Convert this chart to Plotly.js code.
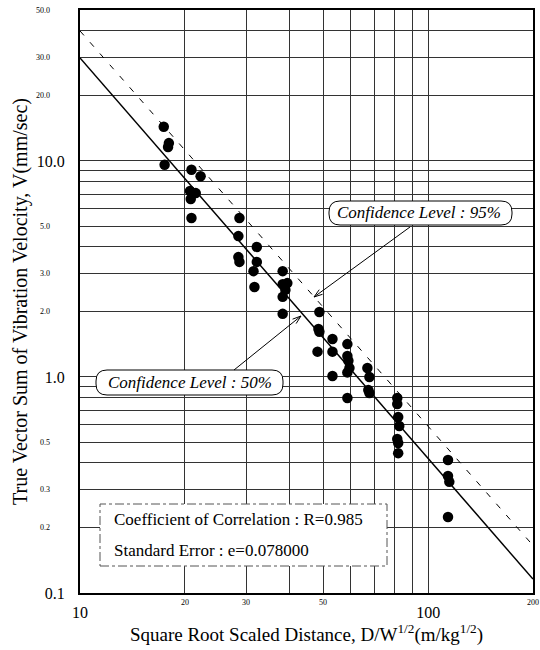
<!DOCTYPE html>
<html>
<head>
<meta charset="utf-8">
<script src="https://cdn.plot.ly/plotly-3.0.1.min.js"></script>
<style>html,body{margin:0;padding:0;background:#fff;}#chart{width:540px;height:650px;}</style>
</head>
<body>
<div id="chart"></div>
<script>
// Measured data points: scaled distance (m/kg^1/2) and vibration velocity (mm/sec)
const distX = [17.4, 18.0, 17.9, 17.5, 20.9, 22.2, 20.7, 21.5, 20.8, 20.9,
  28.7, 28.5, 32.2, 28.5, 28.7, 32.2, 31.5, 31.7, 38.2, 38.2,
  39.4, 38.9, 38.2, 38.2, 48.7, 48.4, 48.7, 53.1, 53.1, 48.1,
  58.6, 58.6, 59.0, 59.4, 58.6, 53.1, 66.9, 67.8, 67.3, 67.8,
  58.6, 81.5, 81.5, 82.0, 82.6, 81.5, 82.0, 82.0, 114, 114,
  115, 114];
const velV = [14.4, 12.1, 11.6, 9.6, 9.1, 8.5, 7.26, 7.1, 6.67, 5.45,
  5.45, 4.49, 4.0, 3.59, 3.41, 3.41, 3.09, 2.61, 3.09, 2.69,
  2.72, 2.53, 2.35, 1.96, 2.0, 1.67, 1.62, 1.5, 1.31, 1.31,
  1.42, 1.25, 1.19, 1.10, 1.05, 1.01, 1.10, 1.00, 0.87, 0.843,
  0.80, 0.80, 0.75, 0.653, 0.593, 0.516, 0.495, 0.444, 0.413, 0.348,
  0.327, 0.225];

// Regression (50%) and 95% confidence lines
const lineX = [10, 200];
const fit50 = [30, 0.116];
const fit95 = [40, 0.166];

// Tick values and labels
const xGridVals = [20, 30, 40, 50, 60, 70, 80, 90];
const xBigVals = [10, 100];
const xBigLabels = ['10', '100'];
const xSmallVals = [20, 30, 50, 200];
const xSmallLabels = ['20', '30', '50', '200'];
const yGridVals = [0.2, 0.3, 0.4, 0.5, 0.6, 0.7, 0.8, 0.9, 2, 3, 4, 5, 6, 7, 8, 9, 20, 30, 40];
const yBigVals = [0.1, 1, 10];
const yBigLabels = ['0.1', '1.0', '10.0'];
const ySmallVals = [0.2, 0.3, 0.5, 2, 3, 5, 20, 30, 50];
const ySmallLabels = ['0.2', '0.3', '0.5', '2.0', '3.0', '5.0', '20.0', '30.0', '50.0'];

const statLines = ['Coefficient of Correlation : R=0.985', 'Standard Error : e=0.078000'];
const confLabels = ['Confidence Level : 95%', 'Confidence Level : 50%'];

const serif = 'Liberation Serif, Times New Roman, serif';

const traces = [
  {
    x: lineX, y: fit95, mode: 'lines', type: 'scatter',
    line: {color: '#000', width: 1, dash: '6px,9px'}, hoverinfo: 'skip'
  },
  {
    x: lineX, y: fit50, mode: 'lines', type: 'scatter',
    line: {color: '#000', width: 1.5}, hoverinfo: 'skip'
  },
  {
    x: distX, y: velV, mode: 'markers', type: 'scatter',
    marker: {color: '#000', size: 10.5, line: {width: 0}}
  }
];

// plot area in pixels: x 80..533, y 10..593
const PL = 80, PR = 533, PT = 10, PB = 593;
const px2paperX = p => (p - PL) / (PR - PL);
const px2paperY = p => (PB - p) / (PB - PT);

function roundRect(x0, y0, x1, y1, r) {
  const X = px2paperX, Y = px2paperY;
  return 'M' + X(x0 + r) + ',' + Y(y0) +
    ' L' + X(x1 - r) + ',' + Y(y0) +
    ' Q' + X(x1) + ',' + Y(y0) + ' ' + X(x1) + ',' + Y(y0 + r) +
    ' L' + X(x1) + ',' + Y(y1 - r) +
    ' Q' + X(x1) + ',' + Y(y1) + ' ' + X(x1 - r) + ',' + Y(y1) +
    ' L' + X(x0 + r) + ',' + Y(y1) +
    ' Q' + X(x0) + ',' + Y(y1) + ' ' + X(x0) + ',' + Y(y1 - r) +
    ' L' + X(x0) + ',' + Y(y0 + r) +
    ' Q' + X(x0) + ',' + Y(y0) + ' ' + X(x0 + r) + ',' + Y(y0) + ' Z';
}

// arrow drawn as a line plus an open head (pixel coords -> paper)
function arrowShapes(tx, ty, hx, hy) {
  const X = px2paperX, Y = px2paperY;
  const ang = Math.atan2(hy - ty, hx - tx);
  const L = 9, w = 0.32;
  const a1x = hx - L * Math.cos(ang - w), a1y = hy - L * Math.sin(ang - w);
  const a2x = hx - L * Math.cos(ang + w), a2y = hy - L * Math.sin(ang + w);
  return [
    {type: 'line', xref: 'paper', yref: 'paper', x0: X(tx), y0: Y(ty), x1: X(hx), y1: Y(hy),
      line: {color: '#000', width: 1}, layer: 'above'},
    {type: 'path', xref: 'paper', yref: 'paper',
      path: 'M' + X(a1x) + ',' + Y(a1y) + ' L' + X(hx) + ',' + Y(hy) + ' L' + X(a2x) + ',' + Y(a2y),
      line: {color: '#000', width: 1}, layer: 'above'}
  ];
}

// small tick labels placed through the axes' own log scales
const smallTickAnns = xSmallVals.map((v, i) => ({
  xref: 'x', yref: 'paper', x: Math.log10(v), y: 0, xanchor: 'center', yanchor: 'top', yshift: -3,
  text: xSmallLabels[i], showarrow: false, font: {family: serif, size: 8, color: '#000'}
})).concat(ySmallVals.map((v, i) => ({
  xref: 'paper', yref: 'y', x: 0, y: Math.log10(v), xanchor: 'right', yanchor: 'middle', xshift: -28,
  text: ySmallLabels[i], showarrow: false, font: {family: serif, size: 8, color: '#000'}
})));

const layout = {
  width: 540, height: 650,
  margin: {l: 80, r: 7, t: 10, b: 57},
  paper_bgcolor: '#fff', plot_bgcolor: '#fff',
  showlegend: false,
  font: {family: serif, color: '#000'},
  xaxis: {
    type: 'log', range: [1, Math.log10(200)],
    tickmode: 'array', tickvals: xBigVals, ticktext: xBigLabels,
    ticks: '', showgrid: true, gridcolor: '#333', gridwidth: 1,
    minor: {tickmode: 'array', tickvals: xGridVals, showgrid: true, gridcolor: '#333', gridwidth: 1, ticks: ''},
    showline: true, linecolor: '#000', linewidth: 2, mirror: true,
    zeroline: false, tickfont: {family: serif, size: 16, color: '#000'},
    ticklabelstandoff: 4,
    title: {text: 'Square Root Scaled Distance, D/W<sup>1/2</sup>(m/kg<sup>1/2</sup>)',
      font: {family: serif, size: 19, color: '#000'}, standoff: 4}
  },
  yaxis: {
    type: 'log', range: [-1, Math.log10(50)],
    tickmode: 'array', tickvals: yBigVals, ticktext: yBigLabels,
    ticks: '', showgrid: true, gridcolor: '#333', gridwidth: 1,
    minor: {tickmode: 'array', tickvals: yGridVals, showgrid: true, gridcolor: '#333', gridwidth: 1, ticks: ''},
    showline: true, linecolor: '#000', linewidth: 2, mirror: true,
    zeroline: false, tickfont: {family: serif, size: 16, color: '#000'},
    ticklabelstandoff: 10,
    title: {text: 'True Vector Sum of Vibration Velocity, V(mm/sec)',
      font: {family: serif, size: 20, color: '#000'}, standoff: 4}
  },
  shapes: [
    {type: 'rect', xref: 'paper', yref: 'paper',
      x0: px2paperX(100), x1: px2paperX(387), y0: px2paperY(566), y1: px2paperY(504),
      fillcolor: '#fff', line: {color: '#555', width: 1, dash: 'dashdot'}, layer: 'above'},
    {type: 'path', xref: 'paper', yref: 'paper', path: roundRect(329, 201, 512, 225, 11),
      fillcolor: '#fff', line: {color: '#000', width: 1}, layer: 'above'},
    {type: 'path', xref: 'paper', yref: 'paper', path: roundRect(96, 370, 283, 395, 11),
      fillcolor: '#fff', line: {color: '#000', width: 1}, layer: 'above'}
  ].concat(arrowShapes(410, 227, 314, 297), arrowShapes(234, 370, 301, 316)),
  annotations: [
    {xref: 'paper', yref: 'paper', x: px2paperX(112), y: px2paperY(519), xanchor: 'left', yanchor: 'middle',
      text: statLines[0], showarrow: false, font: {family: serif, size: 17, color: '#000'}},
    {xref: 'paper', yref: 'paper', x: px2paperX(112), y: px2paperY(550), xanchor: 'left', yanchor: 'middle',
      text: statLines[1], showarrow: false, font: {family: serif, size: 17, color: '#000'}},
    {xref: 'paper', yref: 'paper', x: px2paperX(419), y: px2paperY(213), xanchor: 'center', yanchor: 'middle',
      text: confLabels[0], showarrow: false, font: {family: serif, size: 17, color: '#000', style: 'italic'}},
    {xref: 'paper', yref: 'paper', x: px2paperX(190), y: px2paperY(383), xanchor: 'center', yanchor: 'middle',
      text: confLabels[1], showarrow: false, font: {family: serif, size: 17, color: '#000', style: 'italic'}}
  ].concat(smallTickAnns)
};

Plotly.newPlot('chart', traces, layout, {staticPlot: true, displayModeBar: false});
</script>
</body>
</html>
